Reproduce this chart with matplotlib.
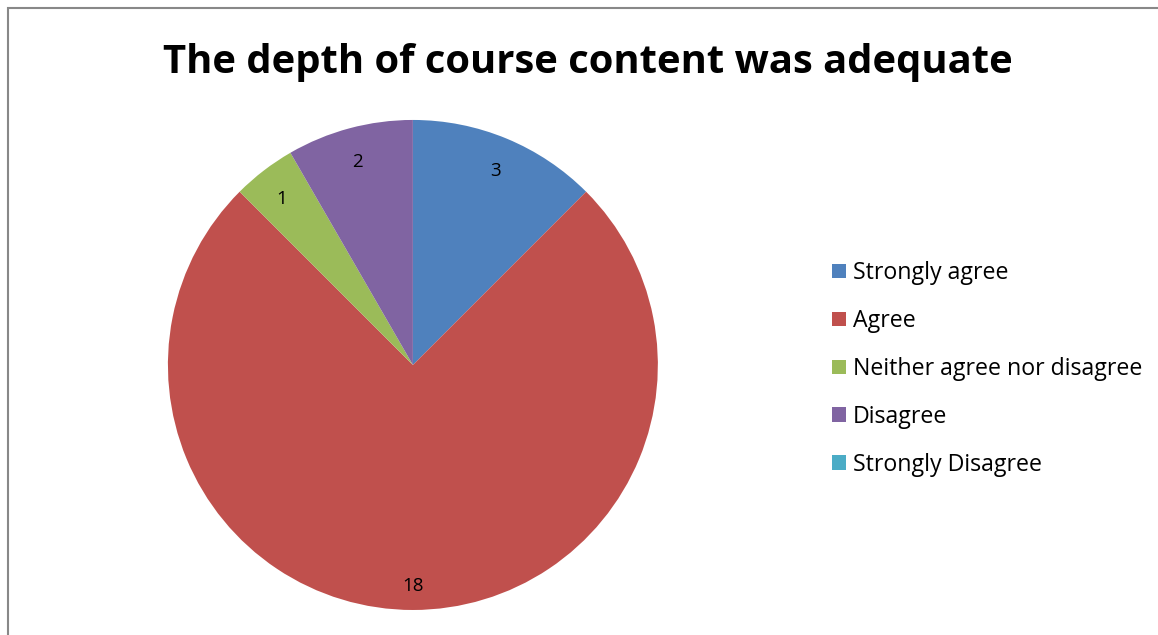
import matplotlib.pyplot as plt
from matplotlib.patches import Rectangle
from matplotlib.transforms import ScaledTranslation

# survey responses
categories = ['Strongly agree', 'Agree', 'Neither agree nor disagree',
              'Disagree', 'Strongly Disagree']
counts = [3, 18, 1, 2, 0]
colors = ['#4F81BD', '#C0504D', '#9BBB59', '#8064A2', '#4BACC6']
title = 'The depth of course content was adequate'

plt.rcParams['font.family'] = ['Open Sans', 'DejaVu Sans']

fig = plt.figure(figsize=(11.58, 6.35), dpi=100)

# chart border (only top/left visible in the crop)
fig.add_artist(Rectangle((8 / 1158, -0.1), 1.2, 1 - 8 / 635 + 0.1,
                         transform=fig.transFigure, fill=False,
                         edgecolor='#888888', linewidth=1.5))

ax = fig.add_axes([0.1450, 0.0394, 0.4231, 0.7717])
total = sum(counts)


def fmt(pct):
    v = int(round(pct * total / 100.0))
    return str(v) if v > 0 else ''


wedges, texts = ax.pie(counts, colors=colors, startangle=90, counterclock=False,
                       labels=[fmt(c * 100.0 / total) for c in counts],
                       labeldistance=0.88,
                       textprops=dict(fontsize=13.5, color='black'),
                       wedgeprops=dict(linewidth=0))
shift = ScaledTranslation(0, -5 / 100, fig.dpi_scale_trans)
for t in texts:
    t.set_horizontalalignment('center')
    t.set_verticalalignment('center')
    t.set_transform(t.get_transform() + shift)
ax.set_aspect('auto')
ax.set_xlim(-1, 1)
ax.set_ylim(-1, 1)

fig.text(588 / 1158, 1 - 62 / 635, title, ha='center', va='center',
         fontsize=28.8, fontweight='bold')

leg = fig.legend(wedges, categories, loc='upper left',
                 bbox_to_anchor=(823 / 1158, 1 - 252 / 635),
                 frameon=False, fontsize=16.7, handlelength=0.6,
                 handleheight=0.6, handletextpad=0.3, labelspacing=1.03,
                 borderaxespad=0)

fig.savefig('out.png', dpi=100)
